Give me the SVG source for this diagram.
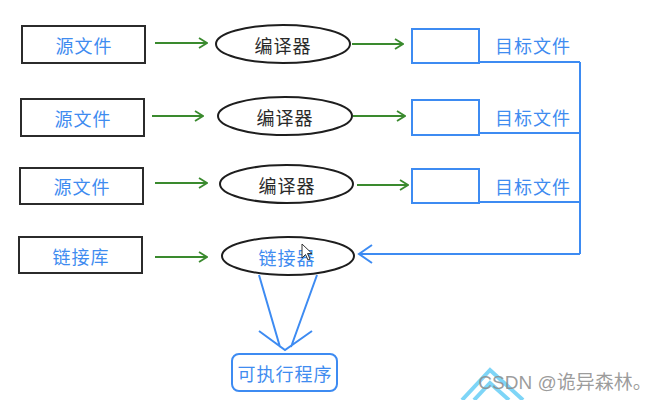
<svg xmlns="http://www.w3.org/2000/svg" width="654" height="400" viewBox="0 0 654 400">
<defs>
<style>
.src{fill:#fff;stroke:#2b2b2b;stroke-width:2}
.ell{fill:#fff;stroke:#1e1e1e;stroke-width:2}
.tgt{fill:#fff;stroke:#3d8bf2;stroke-width:2}
.t{font-family:"Noto Sans CJK SC","Noto Sans",sans-serif;font-size:18px;letter-spacing:1px;text-anchor:middle;dominant-baseline:central}
.bl{fill:#3f8cf0}
.dk{fill:#2a2a2a}
.g{stroke:#3a8a2e;stroke-width:2;fill:none}
.b{stroke:#3d8bf2;stroke-width:2;fill:none}
</style>
<marker id="ga" viewBox="0 0 10 12" refX="9" refY="6" markerWidth="10" markerHeight="12" markerUnits="userSpaceOnUse" orient="auto">
<path d="M1,1 L9,6 L1,11" fill="none" stroke="#3a8a2e" stroke-width="1.8"/>
</marker>
</defs>
<rect width="654" height="400" fill="#fff"/>

<g id="connectors">
<line class="g" x1="155" y1="43" x2="207" y2="43" marker-end="url(#ga)"/>
<line class="g" x1="152" y1="116" x2="203" y2="116" marker-end="url(#ga)"/>
<line class="g" x1="155" y1="183" x2="207" y2="183" marker-end="url(#ga)"/>
<line class="g" x1="155" y1="257" x2="207" y2="257" marker-end="url(#ga)"/>
<line class="g" x1="352" y1="44" x2="403" y2="44" marker-end="url(#ga)"/>
<line class="g" x1="353" y1="116" x2="405" y2="116" marker-end="url(#ga)"/>
<line class="g" x1="357" y1="185" x2="408" y2="185" marker-end="url(#ga)"/>
<path class="b" d="M479,62 H580 M479,133 H580 M479,202 H580 M580,62 V254"/>
<path class="b" d="M580,254 H359"/>
<path class="b" d="M372,245 L359,254 L372,263"/>
<path class="b" d="M259,275 L280,347 M317,275 L291,347 M259,331 L285,350 L312,331"/>
</g>

<g id="src1"><rect class="src" x="22" y="26" width="123" height="37"/><text class="t bl" x="84" y="44.5">源文件</text></g>
<g id="src2"><rect class="src" x="21" y="99" width="123" height="37"/><text class="t bl" x="83" y="117.5">源文件</text></g>
<g id="src3"><rect class="src" x="20" y="168" width="123" height="36"/><text class="t bl" x="82" y="186">源文件</text></g>
<g id="lib"><rect class="src" x="19" y="237" width="123" height="36"/><text class="t bl" x="81" y="255.5">链接库</text></g>

<g id="comp1"><ellipse class="ell" cx="283" cy="44" rx="67" ry="19"/><text class="t dk" x="283" y="44.5">编译器</text></g>
<g id="comp2"><ellipse class="ell" cx="285" cy="116" rx="67" ry="19"/><text class="t dk" x="285" y="116.5">编译器</text></g>
<g id="comp3"><ellipse class="ell" cx="286.5" cy="184" rx="66.5" ry="19"/><text class="t dk" x="287" y="184.5">编译器</text></g>
<g id="linker"><ellipse class="ell" cx="288" cy="256" rx="66" ry="19"/><text class="t bl" x="287" y="257">链接器</text>
<path d="M302,244 L302,258 L305.5,254.5 L308,260 L310,259 L307.5,253.5 L312,253.5 Z" fill="#fff" stroke="#333" stroke-width="1"/></g>

<g id="obj1"><rect class="tgt" x="412" y="29" width="67" height="34"/><text class="t bl" x="533" y="44.5">目标文件</text></g>
<g id="obj2"><rect class="tgt" x="412" y="100" width="67" height="35"/><text class="t bl" x="533" y="116.5">目标文件</text></g>
<g id="obj3"><rect class="tgt" x="412" y="169" width="67" height="34"/><text class="t bl" x="533" y="185.5">目标文件</text></g>

<g id="exe"><rect class="tgt" x="232" y="354" width="105" height="37" rx="7"/><text class="t bl" x="285" y="373">可执行程序</text></g>

<g id="watermark">
<path d="M462,400 L490,370 L523,400 M474,400 L490,383 L509,400" fill="none" stroke="#5ecbf5" stroke-width="4" opacity="0.8"/>
<text x="565" y="382" font-family="'Liberation Sans','Noto Sans CJK SC',sans-serif" font-size="19" fill="#8a8a8a" fill-opacity="0.85" text-anchor="middle" dominant-baseline="central">CSDN @诡异森林。</text>
</g>
</svg>
